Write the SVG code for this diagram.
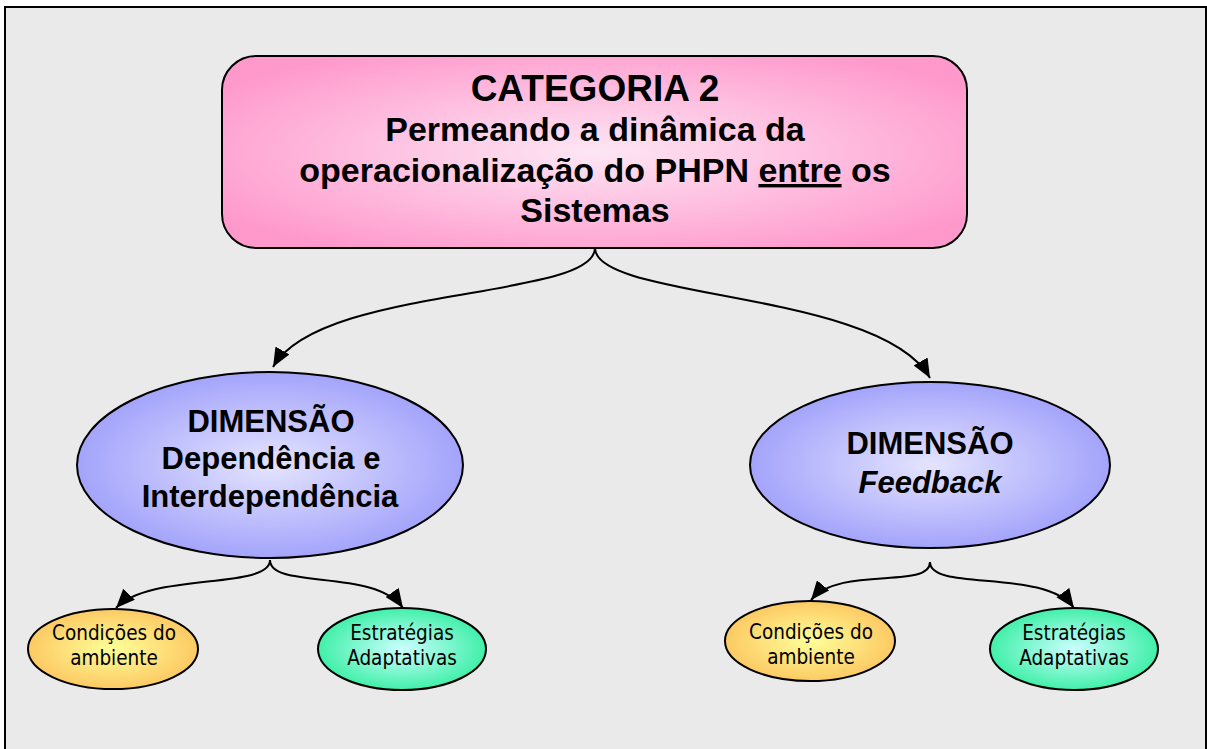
<svg xmlns="http://www.w3.org/2000/svg" width="1207" height="749" viewBox="0 0 1207 749">
<defs>
<radialGradient id="gPink" cx="50%" cy="50%" r="60%">
<stop offset="0" stop-color="#fde6f4"/>
<stop offset="1" stop-color="#ff99cc"/>
</radialGradient>
<radialGradient id="gBlue" cx="50%" cy="50%" r="55%">
<stop offset="0" stop-color="#e4e4ff"/>
<stop offset="1" stop-color="#9d9dfb"/>
</radialGradient>
<radialGradient id="gOrange" cx="50%" cy="50%" r="55%">
<stop offset="0" stop-color="#ffff99"/>
<stop offset="1" stop-color="#fcc45e"/>
</radialGradient>
<radialGradient id="gGreen" cx="50%" cy="50%" r="55%">
<stop offset="0" stop-color="#ccffff"/>
<stop offset="1" stop-color="#33eea0"/>
</radialGradient>
<marker id="arr" markerUnits="userSpaceOnUse" markerWidth="20" markerHeight="16" refX="19" refY="8" orient="auto">
<path d="M0,0 L19,8 L0,16 Z" fill="#000"/>
</marker>
<style>
.big{font-family:"Liberation Sans",Arial,sans-serif;font-weight:bold;fill:#000;text-anchor:middle}
.small{font-family:"DejaVu Sans Condensed","DejaVu Sans",sans-serif;font-size:20.5px;fill:#000;text-anchor:middle}
.shape{stroke:#000;stroke-width:2}
.conn{fill:none;stroke:#000;stroke-width:2}
</style>
</defs>
<rect x="0" y="0" width="1207" height="749" fill="#ffffff"/>
<rect x="5" y="7" width="1201" height="760" fill="#eaeaea" stroke="#000" stroke-width="2"/>
<g id="connectors">
<path class="conn" d="M595,248 C595,300 320,285 273,367" marker-end="url(#arr)"/>
<path class="conn" d="M595,248 C595,300 880,290 930,378" marker-end="url(#arr)"/>
<path class="conn" d="M270,560 C270,590 150,572 116,608" marker-end="url(#arr)"/>
<path class="conn" d="M270,560 C270,590 375,568 403,608" marker-end="url(#arr)"/>
<path class="conn" d="M930,562 C930,590 840,565 811,600" marker-end="url(#arr)"/>
<path class="conn" d="M930,562 C930,592 1045,568 1074,608" marker-end="url(#arr)"/>
</g>
<g id="categoria">
<rect class="shape" x="222" y="56" width="745" height="192" rx="34" ry="34" fill="url(#gPink)"/>
<text class="big" x="595" y="101" font-size="37">CATEGORIA 2</text>
<text class="big" x="595" y="141" font-size="34">Permeando a dinâmica da</text>
<text class="big" x="595" y="182" font-size="34">operacionalização do PHPN <tspan text-decoration="underline">entre</tspan> os</text>
<text class="big" x="595" y="222" font-size="34">Sistemas</text>
</g>
<g id="dim-dependencia">
<ellipse class="shape" cx="270" cy="465" rx="193" ry="93" fill="url(#gBlue)"/>
<text class="big" x="271" y="432" font-size="31">DIMENSÃO</text>
<text class="big" x="271" y="469" font-size="31">Dependência e</text>
<text class="big" x="270" y="507" font-size="31">Interdependência</text>
</g>
<g id="dim-feedback">
<ellipse class="shape" cx="930" cy="465" rx="180" ry="83" fill="url(#gBlue)"/>
<text class="big" x="930" y="454" font-size="31">DIMENSÃO</text>
<text class="big" x="930" y="493" font-size="31" font-style="italic">Feedback</text>
</g>
<g id="cond-left">
<ellipse class="shape" cx="113" cy="649" rx="85" ry="40" fill="url(#gOrange)"/>
<text class="small" x="114" y="640">Condições do</text>
<text class="small" x="114" y="665">ambiente</text>
</g>
<g id="estr-left">
<ellipse class="shape" cx="402" cy="649" rx="84" ry="41" fill="url(#gGreen)"/>
<text class="small" x="402" y="640">Estratégias</text>
<text class="small" x="402" y="665">Adaptativas</text>
</g>
<g id="cond-right">
<ellipse class="shape" cx="810" cy="641" rx="85" ry="40" fill="url(#gOrange)"/>
<text class="small" x="811" y="639">Condições do</text>
<text class="small" x="811" y="664">ambiente</text>
</g>
<g id="estr-right">
<ellipse class="shape" cx="1074" cy="649" rx="84" ry="41" fill="url(#gGreen)"/>
<text class="small" x="1074" y="640">Estratégias</text>
<text class="small" x="1074" y="665">Adaptativas</text>
</g>
</svg>
